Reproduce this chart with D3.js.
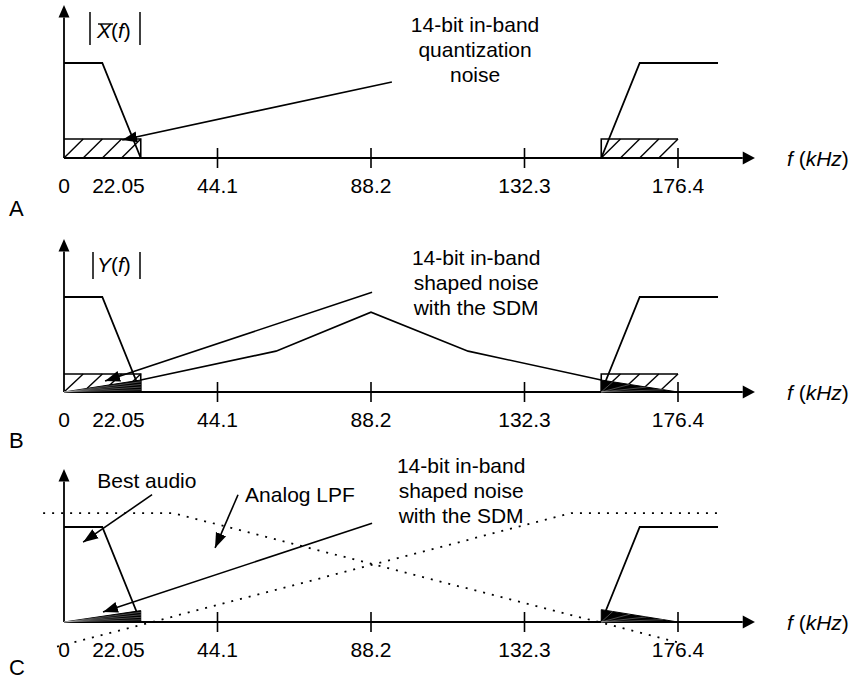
<!DOCTYPE html>
<html><head><meta charset="utf-8">
<script src="https://cdn.jsdelivr.net/npm/d3@7"></script>
<style>body{margin:0;background:#fff}svg text{font-family:"Liberation Sans",Arial,Helvetica,sans-serif;fill:#000}</style>
</head><body><svg id="c" width="853" height="679"></svg>
<script>
// ---- data (frequency in kHz, magnitude normalised to passband = 1) ----
const tickValues = [0, 22.05, 44.1, 88.2, 132.3, 176.4];
const tickLabels = ["0", "22.05", "44.1", "88.2", "132.3", "176.4"];
const tickMarks = [44.1, 88.2, 132.3, 176.4];
const passbandF = [0, 11, 22.05];
const passbandM = [1, 1, 0];
const imageF = [154.35, 165.4, 187.9];
const imageM = [0, 1, 1];
const bandLeft = [0, 22.05];
const bandRight = [154.35, 176.4];
const quantNoiseLevels = [0.2, 0.19];          // panels A, B hatched in-band noise
const shapedF = [22.05, 60.9, 88.2, 116.1, 154.35];
const shapedM = [0.126, 0.43, 0.84, 0.43, 0.126];
const inbandShapedB = [0.126, 0.126];          // edge level of in-band shaped noise (left, right)
const inbandShapedC = [0.12, 0.13];
const lpfDownF = [-6, 31.3, 177];
const lpfDownM = [1.147, 1.147, -0.22];
const lpfUpF = [-2, 145.7, 187.9];
const lpfUpM = [-0.26, 1.147, 1.147];
const panelLetters = ["A", "B", "C"];
const yLabels = ["X", "Y", null];
const noteA = ["14-bit in-band", "quantization", "noise"];
const noteBC = ["14-bit in-band", "shaped noise", "with the SDM"];
// annotation arrows: [fromF, fromM, toF, toM]
const arrowA = [94.2, 0.8, 16.7, 0.19];
const arrowB = [88.5, 1.05, 11.8, 0.116];
const arrowC = [88.5, 1.04, 11.2, 0.105];
const arrowBest = [25.3, 1.34, 5.5, 0.84];
const arrowLPF = [50, 1.34, 43.4, 0.78];

// ---- layout ----
const svg = d3.select("#c");
const x = d3.scaleLinear().domain([0, 176.4]).range([64, 678]);
const panelBase = [158, 392, 622];
const letterOffset = [58, 56, 53];
const unit = 95;
const FS = 21;
const sw = 1.8;

const defs = svg.append("defs");
defs.append("marker").attr("id", "ah").attr("markerUnits", "userSpaceOnUse")
  .attr("viewBox", "0 -6 15 12").attr("markerWidth", 15).attr("markerHeight", 12)
  .attr("refX", 15).attr("refY", 0).attr("orient", "auto")
  .append("path").attr("d", "M0,-5.5L15,0L0,5.5Z").attr("fill", "#000");

const lineGen = (y) => d3.line().x(d => x(d[0])).y(d => y(d[1]));
const zip = (a, b) => a.map((v, i) => [v, b[i]]);

panelBase.forEach((y0, pi) => {
  const y = d3.scaleLinear().domain([0, 1]).range([y0, y0 - unit]);
  const g = svg.append("g");
  const L = lineGen(y);

  // x axis
  g.append("line").attr("x1", x(0)).attr("x2", x(195)).attr("y1", y0).attr("y2", y0)
    .attr("stroke", "#000").attr("stroke-width", sw);
  g.append("path").attr("d", `M${x(195)},${y0 - 6.5}L${x(198.5)},${y0}L${x(195)},${y0 + 6.5}Z`).attr("fill", "#000");
  // y axis
  g.append("line").attr("x1", x(0)).attr("x2", x(0)).attr("y1", y0).attr("y2", y(1.48))
    .attr("stroke", "#000").attr("stroke-width", sw);
  g.append("path").attr("d", `M${x(0) - 5.5},${y(1.48)}L${x(0)},${y(1.61)}L${x(0) + 5.5},${y(1.48)}Z`).attr("fill", "#000");
  // tick marks
  g.selectAll(".tm").data(tickMarks).join("line")
    .attr("x1", d => x(d)).attr("x2", d => x(d)).attr("y1", y0 - 10).attr("y2", y0 + 10)
    .attr("stroke", "#000").attr("stroke-width", 1.6);
  // tick labels
  g.selectAll(".tl").data(tickValues).join("text")
    .attr("x", (d, i) => i === 1 ? x(d) + 4 : x(d))
    .attr("y", y0 + 35).attr("font-size", FS)
    .attr("text-anchor", (d, i) => i === 1 ? "end" : "middle")
    .text((d, i) => tickLabels[i]);
  // f (kHz)
  const ft = g.append("text").attr("x", 787).attr("y", y0 + 8).attr("font-size", FS);
  ft.append("tspan").attr("font-style", "italic").text("f");
  ft.append("tspan").text(" (");
  ft.append("tspan").attr("font-style", "italic").text("kHz");
  ft.append("tspan").text(")");
  // panel letter
  g.append("text").attr("x", 9).attr("y", y0 + letterOffset[pi]).attr("font-size", FS + 1).text(panelLetters[pi]);

  // passband & image
  g.append("path").attr("d", L(zip(passbandF, passbandM))).attr("fill", "none").attr("stroke", "#000").attr("stroke-width", sw);
  g.append("path").attr("d", L(zip(imageF, imageM))).attr("fill", "none").attr("stroke", "#000").attr("stroke-width", sw);

  // hatched quantization-noise bands (A, B)
  if (pi < 2) {
    const lv = quantNoiseLevels[pi];
    const h = y0 - y(lv);
    [bandLeft, bandRight].forEach((band, bi) => {
      const x0 = x(band[0]), x1 = x(band[1]);
      const pts = bi === 0
        ? [[x0, y0 - h], [x1, y0 - h], [x1, y0]]
        : [[x0, y0], [x0, y0 - h], [x1, y0 - h]];
      g.append("path").attr("d", d3.line()(pts)).attr("fill", "none").attr("stroke", "#000").attr("stroke-width", 1.6);
      const step = (x1 - x0) / 4;
      for (let k = 0; k < 4; k++) {
        const xs = x0 + k * step;
        g.append("line").attr("x1", xs).attr("y1", y0).attr("x2", xs + step).attr("y2", y0 - h)
          .attr("stroke", "#000").attr("stroke-width", 1.4);
      }
    });
  }

  // in-band shaped noise wedges (B, C)
  if (pi >= 1) {
    const lev = pi === 1 ? inbandShapedB : inbandShapedC;
    const wl = [[bandLeft[0], 0], [bandLeft[1], lev[0]], [bandLeft[1], 0]];
    const wr = [[bandRight[0], 0], [bandRight[0], lev[1]], [bandRight[1], 0]];
    [wl, wr].forEach(w => {
      g.append("path").attr("d", L(w) + "Z").attr("fill", "#000").attr("stroke", "#000").attr("stroke-width", 1);
      for (let t = 0.15; t < 1; t += 0.22) {
        const a = w[0], b = w[1], c = w[2];
        const p = [b[0] + (c[0] - b[0]) * t, b[1] + (c[1] - b[1]) * t];
        g.append("path").attr("d", L([a, p])).attr("stroke", "#fff").attr("stroke-width", 0.5).attr("opacity", 0.6);
      }
    });
  }

  if (pi === 1) {
    g.append("path").attr("d", L(zip(shapedF, shapedM))).attr("fill", "none").attr("stroke", "#000").attr("stroke-width", 1.6);
  }

  if (pi === 2) {
    g.append("path").attr("d", L(zip(lpfDownF, lpfDownM))).attr("fill", "none").attr("stroke", "#000")
      .attr("stroke-width", 1.8).attr("stroke-dasharray", "2,7");
    g.append("path").attr("d", L(zip(lpfUpF, lpfUpM))).attr("fill", "none").attr("stroke", "#000")
      .attr("stroke-width", 1.8).attr("stroke-dasharray", "2,7");
  }

  // y label |X(f)| / |Y(f)|
  if (yLabels[pi]) {
    const barTop = pi === 0 ? y0 - 146 : y0 - 140;
    const barBot = y0 - 113;
    const lx1 = pi === 0 ? 90 : 93, lx2 = 140;
    [lx1, lx2].forEach(bx => g.append("line").attr("x1", bx).attr("x2", bx).attr("y1", barTop).attr("y2", barBot)
      .attr("stroke", "#000").attr("stroke-width", 1.5));
    const yl = g.append("text").attr("x", 97).attr("y", y0 - 120).attr("font-size", FS);
    yl.append("tspan").attr("font-style", "italic").text(yLabels[pi]);
    yl.append("tspan").text("(");
    yl.append("tspan").attr("font-style", "italic").text("f");
    yl.append("tspan").text(")");
    if (pi === 0) {
      g.append("line").attr("x1", 98).attr("x2", 113).attr("y1", y0 - 134).attr("y2", y0 - 134)
        .attr("stroke", "#000").attr("stroke-width", 1.4);
    }
  }

  // annotations
  const arrow = (a) => g.append("line").attr("x1", x(a[0])).attr("y1", y(a[1])).attr("x2", x(a[2])).attr("y2", y(a[3]))
    .attr("stroke", "#000").attr("stroke-width", 1.6).attr("marker-end", "url(#ah)");
  const note = (lines, f, m, anchor) => {
    lines.forEach((s, i) => g.append("text").attr("x", x(f)).attr("y", y(m) + i * 25)
      .attr("font-size", FS).attr("text-anchor", anchor || "middle").text(s));
  };
  if (pi === 0) { arrow(arrowA); note(noteA, 118.1, 1.326); }
  if (pi === 1) { arrow(arrowB); note(noteBC, 118.4, 1.337); }
  if (pi === 2) {
    arrow(arrowC); note(noteBC, 114.1, 1.568);
    arrow(arrowBest); note(["Best audio"], 23.8, 1.41);
    arrow(arrowLPF); note(["Analog LPF"], 67.8, 1.263);
  }
});
</script></body></html>
